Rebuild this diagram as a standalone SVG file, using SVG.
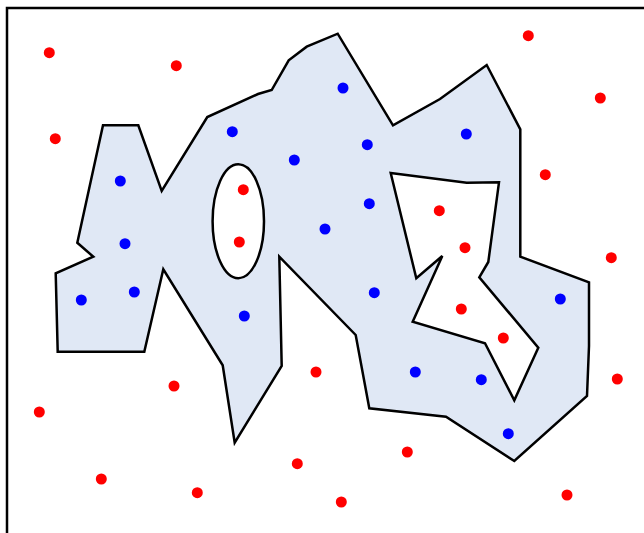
<svg xmlns="http://www.w3.org/2000/svg" width="644" height="533" viewBox="0 0 644 533">
<style>
.frame{fill:none;stroke:#000;stroke-width:2.5}
.region{fill:#e0e8f5;stroke:#000;stroke-width:2.5;stroke-linejoin:miter;fill-rule:evenodd}
.r{fill:#ff0000}
.b{fill:#0000ff}
</style>
<rect width="644" height="533" fill="#fff"/>
<path class="frame" d="M7,540 L7,8 L660,8"/>
<g id="region">
<path class="region" d="M103,125.3 L138.3,125.3 L161.7,191 L207.3,117 L258,94 L271.7,90 L288.7,60.3 L306.7,46.7 L337.7,33.7 L393,125.3 L440,99 L486.7,65 L520.3,129.3 L520.3,256.7 L589,282.3 L589,346 L587,396 L514.3,461 L446,416.7 L369.3,408.3 L355.7,335 L279.3,256.7 L281.7,366 L234.7,442.7 L222.7,365.3 L163.3,269.3 L144.3,351.7 L57.7,351.7 L55.7,273.3 L93.3,256.7 L77.3,242.7 Z
M390.7,173 L466.7,182.7 L499,182.3 L488.3,262 L479.3,277.3 L538.3,347.7 L514.3,400.3 L485,343.3 L412.7,321.7 L442.3,256 L416.3,278.3 Z
M212.6,221.2 A25.7,57 0 1 0 264,221.2 A25.7,57 0 1 0 212.6,221.2 Z"/>
</g>
<g id="red-points">
<circle class="r" cx="49.3" cy="52.7" r="5.5"/>
<circle class="r" cx="176.3" cy="65.7" r="5.5"/>
<circle class="r" cx="55.3" cy="138.7" r="5.5"/>
<circle class="r" cx="243.3" cy="189.7" r="5.5"/>
<circle class="r" cx="239.3" cy="242" r="5.5"/>
<circle class="r" cx="528.3" cy="35.7" r="5.5"/>
<circle class="r" cx="600.3" cy="98" r="5.5"/>
<circle class="r" cx="545.3" cy="174.7" r="5.5"/>
<circle class="r" cx="439.3" cy="210.7" r="5.5"/>
<circle class="r" cx="465" cy="247.7" r="5.5"/>
<circle class="r" cx="611.3" cy="257.7" r="5.5"/>
<circle class="r" cx="461.3" cy="309" r="5.5"/>
<circle class="r" cx="503.3" cy="338" r="5.5"/>
<circle class="r" cx="617.3" cy="379" r="5.5"/>
<circle class="r" cx="407.3" cy="452" r="5.5"/>
<circle class="r" cx="341.3" cy="502" r="5.5"/>
<circle class="r" cx="567" cy="495" r="5.5"/>
<circle class="r" cx="316" cy="372" r="5.5"/>
<circle class="r" cx="174" cy="386" r="5.5"/>
<circle class="r" cx="39.3" cy="412" r="5.5"/>
<circle class="r" cx="101.3" cy="479" r="5.5"/>
<circle class="r" cx="197.3" cy="492.7" r="5.5"/>
<circle class="r" cx="297.3" cy="463.7" r="5.5"/>
</g>
<g id="blue-points">
<circle class="b" cx="343" cy="88" r="5.5"/>
<circle class="b" cx="232.3" cy="131.7" r="5.5"/>
<circle class="b" cx="294.3" cy="160" r="5.5"/>
<circle class="b" cx="120.3" cy="181" r="5.5"/>
<circle class="b" cx="125" cy="243.7" r="5.5"/>
<circle class="b" cx="325" cy="229" r="5.5"/>
<circle class="b" cx="367.3" cy="144.7" r="5.5"/>
<circle class="b" cx="466.3" cy="134" r="5.5"/>
<circle class="b" cx="369.3" cy="203.7" r="5.5"/>
<circle class="b" cx="81.3" cy="300" r="5.5"/>
<circle class="b" cx="134.3" cy="292" r="5.5"/>
<circle class="b" cx="244.3" cy="316" r="5.5"/>
<circle class="b" cx="374.3" cy="292.7" r="5.5"/>
<circle class="b" cx="560.3" cy="299" r="5.5"/>
<circle class="b" cx="415.3" cy="372" r="5.5"/>
<circle class="b" cx="481.3" cy="379.7" r="5.5"/>
<circle class="b" cx="508.3" cy="433.7" r="5.5"/>
</g>
</svg>
